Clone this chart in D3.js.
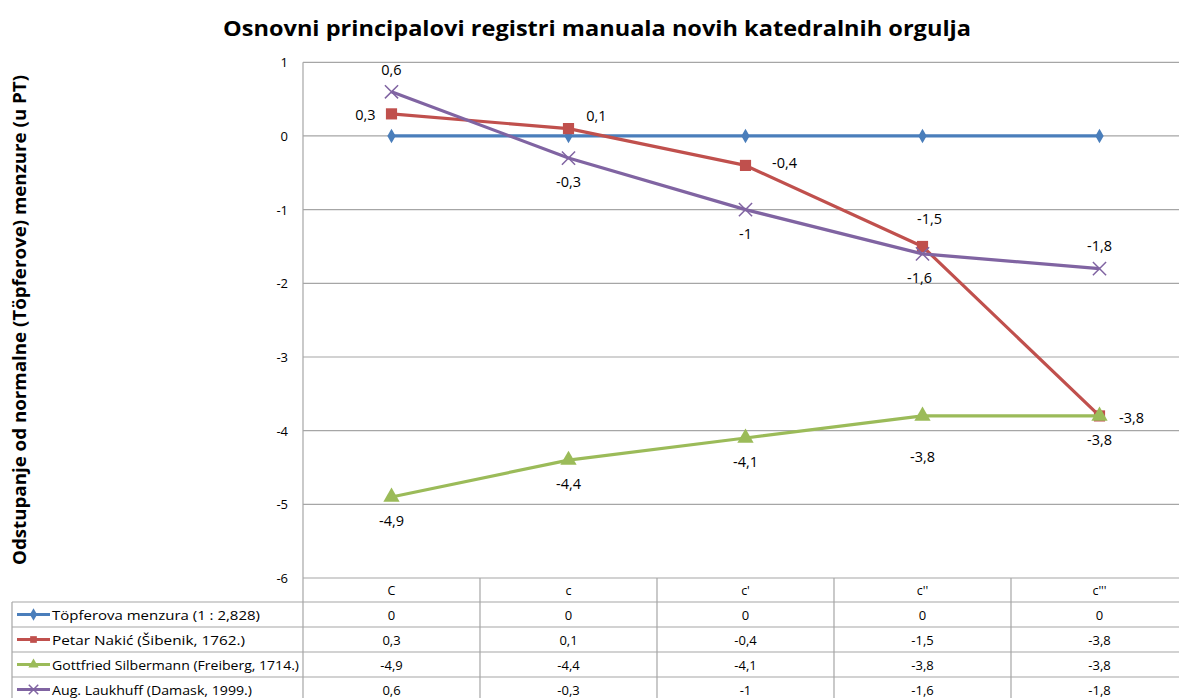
<!DOCTYPE html>
<html lang="hr">
<head>
    <meta charset="UTF-8"/>
    <title>Osnovni principalovi registri</title>
    <script src="https://d3js.org/d3.v7.min.js"></script>
    <style>
        body { margin: 0; background: #fff; }
        text { font-family: "Open Sans", "Noto Sans", sans-serif; fill: #000; }
    </style>
</head>
<body>
<script>

    var w = 1179;
    var h = 698;

    // data
    var categories = ["C", "c", "c'", "c''", "c'''"];
    var seriesNames = ["Töpferova menzura (1 : 2,828)", "Petar Nakić (Šibenik, 1762.)",
                       "Gottfried Silbermann (Freiberg, 1714.)", "Aug. Laukhuff (Damask, 1999.)"];
    var topfer = [0, 0, 0, 0, 0];
    var nakic = [0.3, 0.1, -0.4, -1.5, -3.8];
    var silbermann = [-4.9, -4.4, -4.1, -3.8, -3.8];
    var laukhuff = [0.6, -0.3, -1, -1.6, -1.8];
    var yTicks = [1, 0, -1, -2, -3, -4, -5, -6];

    // data label offsets from each point (label centre), null = no labels
    var labelOffsets = [
        null,
        [[-26, 1], [28, -13], [39, -3], [7, -28], [32, 2]],
        [[0, 24], [0, 24], [0, 24], [0, 41], [0, 24]],
        [[0, -22], [0, 24], [0, 24], [-3, 24], [0, -23]]
    ];

    var colors = ["#4a7ebb", "#c0504d", "#9bbb59", "#8064a2"];
    var symbols = [d3.symbolDiamond, d3.symbolSquare, d3.symbolTriangle, d3.symbolTimes];
    var symbolSizes = [60, 125, 115, 115];
    var allSeries = [topfer, nakic, silbermann, laukhuff];

    var plotLeft = 303, plotRight = 1188, plotTop = 62.3, plotBottom = 578;

    var fmt = function(v) { return String(v).replace(".", ","); };

    var svg = d3.select("body").append("svg")
        .attr("width", w)
        .attr("height", h);

    var xScale = d3.scaleBand()
        .domain(categories)
        .range([plotLeft, plotRight]);

    var yScale = d3.scaleLinear()
        .domain([-6, 1])
        .range([plotBottom, plotTop]);

    var cx = function(i) { return xScale(categories[i]) + xScale.bandwidth() / 2; };

    // title
    svg.append("text")
        .attr("x", 597)
        .attr("y", 36)
        .attr("text-anchor", "middle")
        .style("font-size", "21px")
        .style("font-weight", "bold")
        .attr("textLength", 748)
        .attr("lengthAdjust", "spacingAndGlyphs")
        .text("Osnovni principalovi registri manuala novih katedralnih orgulja");

    // y axis title
    svg.append("text")
        .attr("transform", "translate(26," + 320 + ") rotate(-90)")
        .attr("text-anchor", "middle")
        .style("font-size", "17px")
        .style("font-weight", "bold")
        .attr("textLength", 490)
        .attr("lengthAdjust", "spacingAndGlyphs")
        .text("Odstupanje od normalne (Töpferove) menzure (u PT)");

    // gridlines
    svg.selectAll(".grid")
        .data(yTicks)
        .enter()
        .append("line")
        .attr("x1", plotLeft)
        .attr("x2", plotRight)
        .attr("y1", function(d) { return yScale(d); })
        .attr("y2", function(d) { return yScale(d); })
        .style("stroke", "#a6a6a6")
        .style("stroke-width", 1.2);

    // y axis line and tick labels
    svg.append("line")
        .attr("x1", plotLeft).attr("x2", plotLeft)
        .attr("y1", plotTop).attr("y2", plotBottom)
        .style("stroke", "#a6a6a6")
        .style("stroke-width", 1.2);

    svg.selectAll(".ylab")
        .data(yTicks)
        .enter()
        .append("text")
        .attr("x", 288)
        .attr("y", function(d) { return yScale(d) + 5; })
        .attr("text-anchor", "end")
        .style("font-size", "13px")
        .text(function(d) { return d; });

    // data table
    var rowH = 25;
    var tableTop = plotBottom;
    var legendLeft = 12;
    var grey = "#a6a6a6";

    // column separators
    var colEdges = [plotLeft].concat(categories.map(function(c) { return xScale(c) + xScale.bandwidth(); }));
    svg.selectAll(".col")
        .data(colEdges)
        .enter()
        .append("line")
        .attr("x1", function(d) { return d; })
        .attr("x2", function(d) { return d; })
        .attr("y1", tableTop)
        .attr("y2", h)
        .style("stroke", grey)
        .style("stroke-width", 1.2);

    svg.append("line")
        .attr("x1", legendLeft).attr("x2", legendLeft)
        .attr("y1", tableTop + rowH - 1).attr("y2", h)
        .style("stroke", grey).style("stroke-width", 1.2);

    for (var r = 1; r <= 4; r++) {
        svg.append("line")
            .attr("x1", legendLeft)
            .attr("x2", plotRight)
            .attr("y1", tableTop + rowH * r - 1)
            .attr("y2", tableTop + rowH * r - 1)
            .style("stroke", grey)
            .style("stroke-width", 1.2);
    }

    // header
    svg.selectAll(".cat")
        .data(categories)
        .enter()
        .append("text")
        .attr("x", function(d, i) { return cx(i); })
        .attr("y", tableTop + 17)
        .attr("text-anchor", "middle")
        .style("font-size", "12.5px")
        .text(function(d) { return d; });

    allSeries.forEach(function(series, s) {
        var rowY = tableTop + rowH * (s + 1) - 1;

        // legend key
        svg.append("line")
            .attr("x1", 17).attr("x2", 50)
            .attr("y1", rowY + rowH / 2).attr("y2", rowY + rowH / 2)
            .style("stroke", colors[s])
            .style("stroke-width", 3);
        svg.append("path")
            .attr("transform", "translate(33.5," + (rowY + rowH / 2) + ")")
            .attr("d", d3.symbol().type(symbols[s]).size(s == 3 ? 60 : 45))
            .style("fill", s == 3 ? "none" : colors[s])
            .style("stroke", colors[s])
            .style("stroke-width", s == 3 ? 1.5 : 0);
        svg.append("text")
            .attr("x", 52)
            .attr("y", rowY + 17.5)
            .style("font-size", "13px")
            .attr("textLength", [208, 193, 247, 200][s])
            .attr("lengthAdjust", "spacingAndGlyphs")
            .text(seriesNames[s]);

        svg.selectAll(".val" + s)
            .data(series)
            .enter()
            .append("text")
            .attr("x", function(d, i) { return cx(i); })
            .attr("y", rowY + 17.5)
            .attr("text-anchor", "middle")
            .style("font-size", "13px")
            .text(function(d) { return fmt(d); });
    });

    // lines and markers
    var line = d3.line()
        .x(function(d, i) { return cx(i); })
        .y(function(d) { return yScale(d); });

    allSeries.forEach(function(series, s) {
        svg.append("path")
            .datum(series)
            .attr("d", line)
            .style("fill", "none")
            .style("stroke", colors[s])
            .style("stroke-width", 3.2)
            .style("stroke-linejoin", "round");

        svg.selectAll(".pt" + s)
            .data(series)
            .enter()
            .append("path")
            .attr("transform", function(d, i) {
                return "translate(" + cx(i) + "," + yScale(d) + ")";
            })
            .attr("d", d3.symbol().type(symbols[s]).size(symbolSizes[s]))
            .style("fill", s == 3 ? "none" : colors[s])
            .style("stroke", colors[s])
            .style("stroke-width", s == 3 ? 1.5 : 0);
    });

    // data labels
    allSeries.forEach(function(series, s) {
        if (!labelOffsets[s]) return;
        svg.selectAll(".lab" + s)
            .data(series)
            .enter()
            .append("text")
            .attr("x", function(d, i) { return cx(i) + labelOffsets[s][i][0]; })
            .attr("y", function(d, i) { return yScale(d) + labelOffsets[s][i][1]; })
            .attr("dy", "0.35em")
            .attr("text-anchor", "middle")
            .style("font-size", "14.5px")
            .text(function(d) { return fmt(d); });
    });

</script>
</body>
</html>
